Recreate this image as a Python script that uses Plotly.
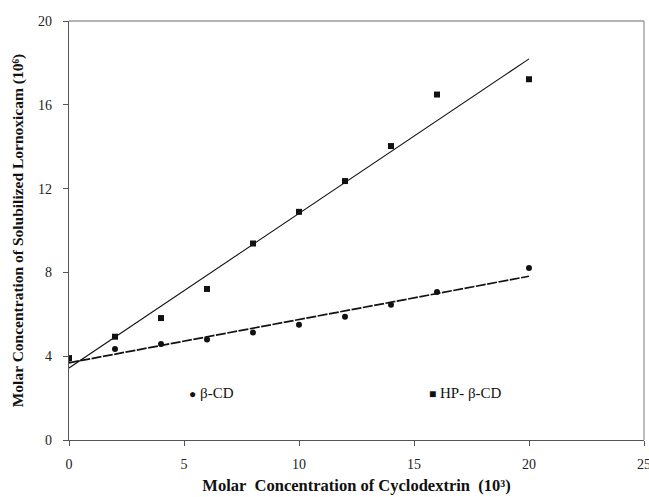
import numpy as np
import plotly.graph_objects as go

# Cyclodextrin concentration (x 10^3 M)
cd_conc = [0, 2, 4, 6, 8, 10, 12, 14, 16, 20]
# Solubilized lornoxicam (x 10^6 M)
beta_cd = [3.88, 4.34, 4.58, 4.80, 5.13, 5.50, 5.88, 6.46, 7.07, 8.21]
hp_beta_cd = [3.91, 4.93, 5.82, 7.21, 9.38, 10.89, 12.36, 14.03, 16.49, 17.22]

x_ticks = [0, 5, 10, 15, 20, 25]
y_ticks = [0, 4, 8, 12, 16, 20]

FONT = "Liberation Serif, Times New Roman, serif"


def fit_line(x, y):
    slope, intercept = np.polyfit(x, y, 1)
    xs = np.array([min(x), max(x)], dtype=float)
    return xs, slope * xs + intercept


fig = go.Figure()

# Linear fits
bx, by = fit_line(cd_conc, beta_cd)
hx, hy = fit_line(cd_conc, hp_beta_cd)
fig.add_trace(go.Scatter(x=bx, y=by, mode="lines",
                         line=dict(color="#111", width=1.7, dash="10px,1.5px"),
                         showlegend=False, hoverinfo="skip"))
fig.add_trace(go.Scatter(x=hx, y=hy, mode="lines",
                         line=dict(color="#111", width=1.1),
                         showlegend=False, hoverinfo="skip"))

# Measured points
fig.add_trace(go.Scatter(x=cd_conc, y=beta_cd, mode="markers", name="β-CD",
                         marker=dict(symbol="circle", size=6, color="#111"),
                         showlegend=False))
fig.add_trace(go.Scatter(x=cd_conc, y=hp_beta_cd, mode="markers", name="HP- β-CD",
                         marker=dict(symbol="square", size=6, color="#111"),
                         showlegend=False))

# In-plot key
fig.add_annotation(x=5.12, y=2.26, xref="x", yref="y", xanchor="left", yanchor="middle",
                   text="<span style='font-size:12px'>●</span> β-CD",
                   showarrow=False, font=dict(family=FONT, size=15, color="#111"))
fig.add_annotation(x=15.58, y=2.26, xref="x", yref="y", xanchor="left", yanchor="middle",
                   text="<span style='font-size:12px'>■</span> HP- β-CD",
                   showarrow=False, font=dict(family=FONT, size=15, color="#111"))

fig.update_layout(
    width=649, height=497,
    margin=dict(l=69, r=5, t=21, b=57),
    paper_bgcolor="white", plot_bgcolor="white",
    font=dict(family=FONT, size=13, color="#222"),
    xaxis=dict(
        range=[0, 25], tickvals=x_ticks, ticktext=[str(v) for v in x_ticks],
        showgrid=False, zeroline=False, automargin=False,
        showline=True, linecolor="#555", linewidth=1.3, mirror=False,
        ticks="outside", ticklen=5, tickcolor="#555", tickwidth=1,
        ticklabelstandoff=6, ticklabeloverflow="allow",
        tickfont=dict(family=FONT, size=14, color="#222"),
        title=dict(text="<b>Molar&nbsp;&nbsp;Concentration of Cyclodextrin&nbsp;&nbsp;(10³)</b>",
                   font=dict(family=FONT, size=16.5, color="#111"), standoff=8),
    ),
    yaxis=dict(
        range=[0, 20], tickvals=y_ticks, ticktext=[str(v) for v in y_ticks],
        showgrid=False, zeroline=False, automargin=False,
        showline=True, linecolor="#555", linewidth=1.3, mirror=False,
        ticks="outside", ticklen=5, tickcolor="#555", tickwidth=1,
        ticklabelstandoff=8,
        tickfont=dict(family=FONT, size=14, color="#222"),
        title=dict(text="<b>Molar Concentration of Solubilized Lornoxicam (10⁶)</b>",
                   font=dict(family=FONT, size=15.5, color="#111"), standoff=10),
    ),
)

# Lighter top/right frame
fig.add_shape(type="line", xref="paper", yref="paper", x0=0, x1=1, y0=1, y1=1,
              line=dict(color="#999", width=1.3))
fig.add_shape(type="line", xref="paper", yref="paper", x0=1, x1=1, y0=0, y1=1,
              line=dict(color="#999", width=1.3))

fig.write_html("out.html")
